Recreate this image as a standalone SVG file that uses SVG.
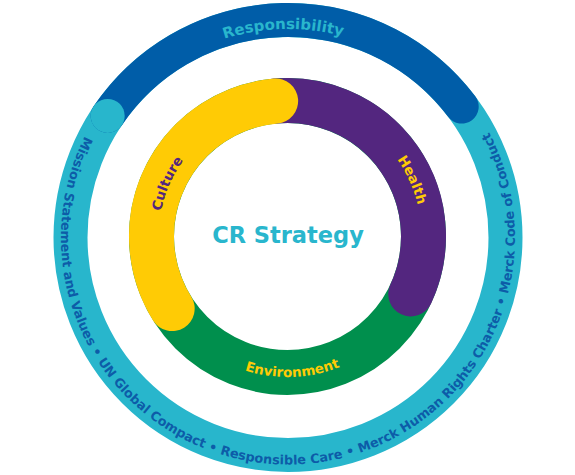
<svg xmlns="http://www.w3.org/2000/svg" xmlns:xlink="http://www.w3.org/1999/xlink" width="575" height="475" viewBox="0 0 575 475">
<style>
  text { font-family: "DejaVu Sans", Verdana, sans-serif; font-weight: bold; }
  .ring { fill: none; }
  .outer-txt { fill: #0d5ca8; font-size: 12.8px; }
  .seg-txt { font-size: 13.5px; }
</style>
<defs>
  <path id="p-resp" d="M 125.28 107.14 A 208.5 208.5 0 0 1 444.66 99.91"/>
  <path id="p-outer" d="M 84.85 136.21 A 227 227 0 1 0 461.89 91.59"/>
  <path id="p-culture" d="M 171.75 293.45 A 129 129 0 0 1 251.51 112.62"/>
  <path id="p-health" d="M 323.54 107.44 A 134 134 0 0 1 408.35 294.40"/>
  <path id="p-env" d="M 183.25 330.69 A 140.5 140.5 0 0 0 398.37 322.81"/>
</defs>
<rect width="575" height="475" fill="#ffffff"/>

<g id="outer-ring">
  <circle class="ring" cx="288" cy="237.5" r="217.5" stroke="#28b6cc" stroke-width="34"/>
  <path class="ring" d="M 107.68 115.88 A 217.5 217.5 0 0 1 461.70 106.60" stroke="#005da8" stroke-width="34" stroke-linecap="round"/>
  <circle cx="107.68" cy="115.88" r="17" fill="#28b6cc"/>
</g>

<g id="environment">
  <circle class="ring" cx="287.5" cy="236.5" r="136" stroke="#008f4d" stroke-width="45"/>
  <text class="seg-txt" fill="#ffcb05"><textPath xlink:href="#p-env" href="#p-env" startOffset="50%" text-anchor="middle">Environment</textPath></text>
</g>

<g id="health">
  <path class="ring" d="M 275.65 101.02 A 136 136 0 0 1 410.76 293.97" stroke="#53267f" stroke-width="45" stroke-linecap="round"/>
  <text class="seg-txt" fill="#ffcb05"><textPath xlink:href="#p-health" href="#p-health" startOffset="50%" text-anchor="middle">Health</textPath></text>
</g>

<g id="culture">
  <path class="ring" d="M 172.17 308.57 A 136 136 0 0 1 275.65 101.02" stroke="#ffcb05" stroke-width="45" stroke-linecap="round"/>
  <text class="seg-txt" fill="#53267f"><textPath xlink:href="#p-culture" href="#p-culture" startOffset="50%" text-anchor="middle">Culture</textPath></text>
</g>

<g id="responsibility">
  <text fill="#29b6cd" font-size="15"><textPath xlink:href="#p-resp" href="#p-resp" startOffset="50%" text-anchor="middle">Responsibility</textPath></text>
</g>

<g id="principles">
  <text class="outer-txt"><textPath xlink:href="#p-outer" href="#p-outer">Mission Statement and Values • UN Global Compact • Responsible Care • Merck Human Rights Charter • Merck Code of Conduct</textPath></text>
</g>

<g id="cr-strategy">
  <text x="288" y="242.5" text-anchor="middle" font-size="22.5" fill="#29b6cd">CR Strategy</text>
</g>
</svg>
